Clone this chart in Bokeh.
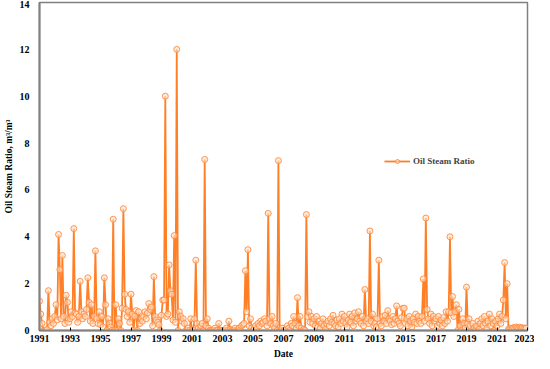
import numpy as np
from bokeh.plotting import figure
from bokeh.models import FixedTicker, Range1d, Legend, LegendItem
from bokeh.embed import file_html
from bokeh.resources import INLINE

start_year = 1991
x_ticks = list(range(1991, 2024, 2))
y_ticks = list(range(0, 15, 2))

# monthly oil steam ratio, one row per year (Jan..Dec)
osr_1991 = [1.25, 0.7, 0.3, 0.0, 0.0, 0.0, 0.05, 1.7, 0.35, 0.2, 0.5, 0.3]
osr_1992 = [0.6, 1.1, 0.45, 4.1, 2.6, 0.5, 3.2, 0.6, 0.3, 1.5, 1.2, 0.35]
osr_1993 = [0.5, 0.8, 0.6, 4.35, 0.75, 0.7, 0.35, 0.6, 2.1, 0.8, 0.5, 0.7]
osr_1994 = [0.6, 0.9, 2.25, 1.2, 0.4, 1.1, 0.3, 0.6, 3.4, 0.5, 0.3, 0.8]
osr_1995 = [0.25, 0.6, 0.15, 2.25, 1.1, 0.0, 0.5, 0.3, 0.15, 0.0, 4.75, 0.0]
osr_1996 = [1.1, 0.0, 0.5, 0.3, 0.0, 0.95, 5.2, 1.55, 0.9, 0.6, 0.8, 0.35]
osr_1997 = [1.55, 0.7, 0.0, 0.6, 0.85, 0.0, 0.8, 0.3, 0.5, 0.4, 0.6, 0.8]
osr_1998 = [0.5, 0.75, 1.15, 0.9, 1.0, 0.2, 2.3, 0.6, 0.45, 0.35, 0.25, 0.0]
osr_1999 = [0.65, 1.3, 1.3, 10.0, 0.6, 0.7, 2.8, 1.7, 1.55, 0.45, 4.05, 0.35]
osr_2000 = [12.0, 0.0, 0.8, 0.6, 0.4, 0.5, 0.3, 0.0, 0.0, 0.1, 0.0, 0.5]
osr_2001 = [0.0, 0.0, 0.5, 3.0, 0.3, 0.1, 0.0, 0.2, 0.3, 0.0, 7.3, 0.2]
osr_2002 = [0.5, 0.1, 0.0, 0.0, 0.0, 0.0, 0.1, 0.0, 0.0, 0.3, 0.0, 0.0]
osr_2003 = [0.0, 0.0, 0.0, 0.1, 0.0, 0.4, 0.05, 0.0, 0.0, 0.0, 0.1, 0.0]
osr_2004 = [0.0, 0.1, 0.0, 0.2, 0.25, 0.3, 2.55, 0.8, 3.45, 0.2, 0.5, 0.1]
osr_2005 = [0.0, 0.1, 0.2, 0.05, 0.3, 0.2, 0.4, 0.3, 0.35, 0.5, 0.4, 0.2]
osr_2006 = [5.0, 0.5, 0.3, 0.6, 0.2, 0.1, 0.3, 0.0, 7.25, 0.0, 0.0, 0.1]
osr_2007 = [0.0, 0.0, 0.05, 0.2, 0.1, 0.0, 0.3, 0.2, 0.6, 0.3, 0.1, 1.4]
osr_2008 = [0.2, 0.6, 0.1, 0.0, 0.05, 0.0, 4.95, 0.6, 0.8, 0.35, 0.6, 0.3]
osr_2009 = [0.5, 0.2, 0.6, 0.15, 0.4, 0.1, 0.3, 0.5, 0.2, 0.05, 0.3, 0.4]
osr_2010 = [0.2, 0.5, 0.35, 0.65, 0.3, 0.2, 0.45, 0.15, 0.5, 0.3, 0.7, 0.4]
osr_2011 = [0.6, 0.3, 0.15, 0.45, 0.7, 0.35, 0.6, 0.2, 0.75, 0.4, 0.5, 0.8]
osr_2012 = [0.4, 0.3, 0.6, 0.2, 1.75, 0.4, 0.5, 0.3, 4.25, 0.4, 0.7, 0.2]
osr_2013 = [0.3, 0.15, 0.5, 3.0, 0.3, 0.2, 0.6, 0.4, 0.65, 0.3, 0.85, 0.5]
osr_2014 = [0.4, 0.25, 0.6, 0.3, 0.5, 1.05, 0.4, 0.3, 0.2, 0.55, 0.95, 0.95]
osr_2015 = [0.3, 0.5, 0.2, 0.6, 0.4, 0.15, 0.5, 0.35, 0.7, 0.3, 0.6, 0.4]
osr_2016 = [0.3, 0.6, 2.2, 0.4, 4.8, 0.9, 0.5, 0.3, 0.7, 0.2, 0.6, 0.4]
osr_2017 = [0.5, 0.2, 0.6, 0.3, 0.45, 0.2, 0.55, 0.3, 0.8, 0.4, 0.8, 4.0]
osr_2018 = [0.75, 1.45, 0.6, 0.8, 1.1, 0.0, 0.9, 0.2, 0.0, 0.5, 0.3, 0.1]
osr_2019 = [1.85, 0.3, 0.5, 0.2, 0.0, 0.3, 0.1, 0.0, 0.2, 0.4, 0.05, 0.3]
osr_2020 = [0.5, 0.2, 0.6, 0.3, 0.1, 0.4, 0.7, 0.2, 0.5, 0.3, 0.0, 0.4]
osr_2021 = [0.2, 0.5, 0.7, 0.3, 0.6, 1.3, 2.9, 0.5, 2.0, 0.05, 0.1, 0.08]
osr_2022 = [0.1, 0.12, 0.1, 0.15, 0.12, 0.1, 0.14, 0.1, 0.12, 0.08, 0.1, 0.1]

years = [osr_1991, osr_1992, osr_1993, osr_1994, osr_1995, osr_1996, osr_1997,
         osr_1998, osr_1999, osr_2000, osr_2001, osr_2002, osr_2003, osr_2004,
         osr_2005, osr_2006, osr_2007, osr_2008, osr_2009, osr_2010, osr_2011,
         osr_2012, osr_2013, osr_2014, osr_2015, osr_2016, osr_2017, osr_2018,
         osr_2019, osr_2020, osr_2021, osr_2022]
osr = [v for yr in years for v in yr]
t = [start_year + i / 12.0 for i in range(len(osr))]

FONT = "Liberation Serif"
ORANGE = "#FF7F27"

p = figure(width=534, height=361, output_backend="svg", toolbar_location=None,
           x_range=Range1d(1991, 2023), y_range=Range1d(0, 14),
           min_border_left=20, min_border_right=7, min_border_top=2, min_border_bottom=2)
p.grid.visible = False
p.outline_line_color = "#808080"
p.outline_line_width = 1.5

ln = p.line(t, osr, line_color=ORANGE, line_width=1.8)
sc = p.scatter(t, osr, size=6, line_color="#FF8C40", line_width=1,
               fill_color="#FFE0C4", fill_alpha=0.6, line_alpha=0.9)

for ax in (p.xaxis[0], p.yaxis[0]):
    ax.axis_line_color = "#808080"
    ax.axis_line_width = 2
    ax.major_label_text_font = FONT
    ax.major_label_text_font_style = "bold"
    ax.major_label_text_font_size = "10px"
    ax.major_label_text_color = "black"
    ax.axis_label_text_font = FONT
    ax.axis_label_text_font_style = "bold"
    ax.axis_label_text_font_size = "9.5px"
    ax.axis_label_text_color = "black"
    ax.minor_tick_line_color = None

p.xaxis.ticker = FixedTicker(ticks=x_ticks)
p.yaxis.ticker = FixedTicker(ticks=y_ticks)
p.xaxis.axis_label = "Date"
p.yaxis.axis_label = "Oil Steam Ratio, m\u00b3/m\u00b3"
p.xaxis.major_tick_in = 3
p.xaxis.major_tick_out = 0
p.xaxis.major_tick_line_color = "black"
p.yaxis.major_tick_line_color = None
p.xaxis.major_label_standoff = 4
p.yaxis.major_label_standoff = 4
p.xaxis.axis_label_standoff = 4
p.yaxis.axis_label_standoff = 3

legend = Legend(items=[LegendItem(label="Oil Steam Ratio", renderers=[ln, sc])],
                location=(345, 164))
legend.label_text_font = FONT
legend.label_text_font_style = "bold"
legend.label_text_font_size = "9px"
legend.border_line_color = None
legend.background_fill_alpha = 0
legend.glyph_width = 26
legend.glyph_height = 10
legend.padding = 2
legend.label_standoff = 3
p.add_layout(legend, "center")

open("out.html", "w").write(file_html(p, INLINE))
